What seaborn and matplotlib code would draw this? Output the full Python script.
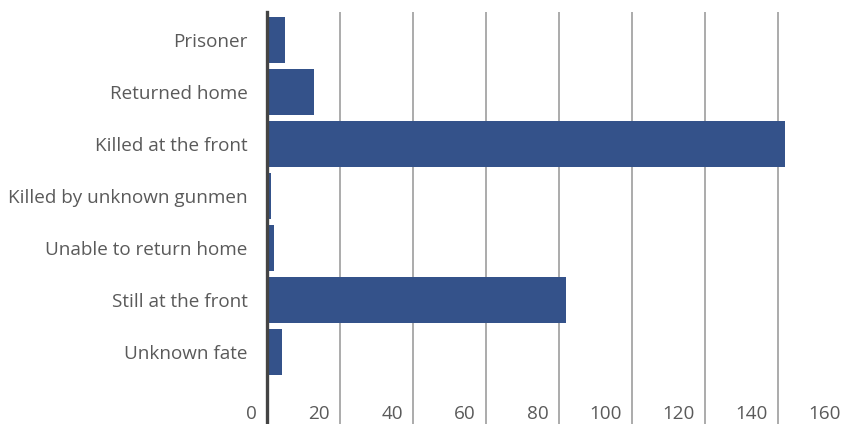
import matplotlib
matplotlib.use("Agg")
import matplotlib.pyplot as plt
import matplotlib.transforms as mtransforms
import seaborn as sns
import pandas as pd

categories = ["Prisoner", "Returned home", "Killed at the front",
              "Killed by unknown gunmen", "Unable to return home",
              "Still at the front", "Unknown fate"]
values = [5, 13, 142, 1, 2, 82, 4]
xticks = [0, 20, 40, 60, 80, 100, 120, 140, 160]

df = pd.DataFrame({"category": categories, "value": values})

sns.set_theme(style="white")
plt.rcParams["font.family"] = ["Open Sans", "DejaVu Sans"]

W, H, DPI = 842, 424, 100
fig = plt.figure(figsize=(W / DPI, H / DPI), dpi=DPI)
ax = fig.add_axes([267 / W, 0, (851 - 267) / W, 1 - 12 / H])

sns.barplot(data=df, x="value", y="category", orient="h", color="#34528a",
            saturation=1, width=0.9, linewidth=0, ax=ax, zorder=3)

ax.set_xlim(0, 160)
ax.set_ylim(7.385, -0.538)
ax.set_xticks(xticks)
ax.set_xticklabels([str(t) for t in xticks])
ax.set_xlabel("")
ax.set_ylabel("")

ax.grid(axis="x", color="#ababab", linewidth=1.4, zorder=0)
ax.grid(axis="y", visible=False)
ax.set_axisbelow(True)
for s in ["top", "right", "bottom"]:
    ax.spines[s].set_visible(False)
ax.spines["left"].set_color("#444444")
ax.spines["left"].set_linewidth(2.4)
ax.spines["left"].set_zorder(5)

ax.tick_params(axis="y", length=0, pad=14, labelsize=13.6, labelcolor="#5a5a5a")
ax.tick_params(axis="x", length=0, pad=-14, labelsize=13.6, labelcolor="#5a5a5a")

offset = mtransforms.ScaledTranslation(-0.10, 0, fig.dpi_scale_trans)
for lab in ax.get_xticklabels():
    lab.set_horizontalalignment("right")
    lab.set_verticalalignment("top")
    lab.set_transform(lab.get_transform() + offset)

fig.savefig("out.png", dpi=DPI)
